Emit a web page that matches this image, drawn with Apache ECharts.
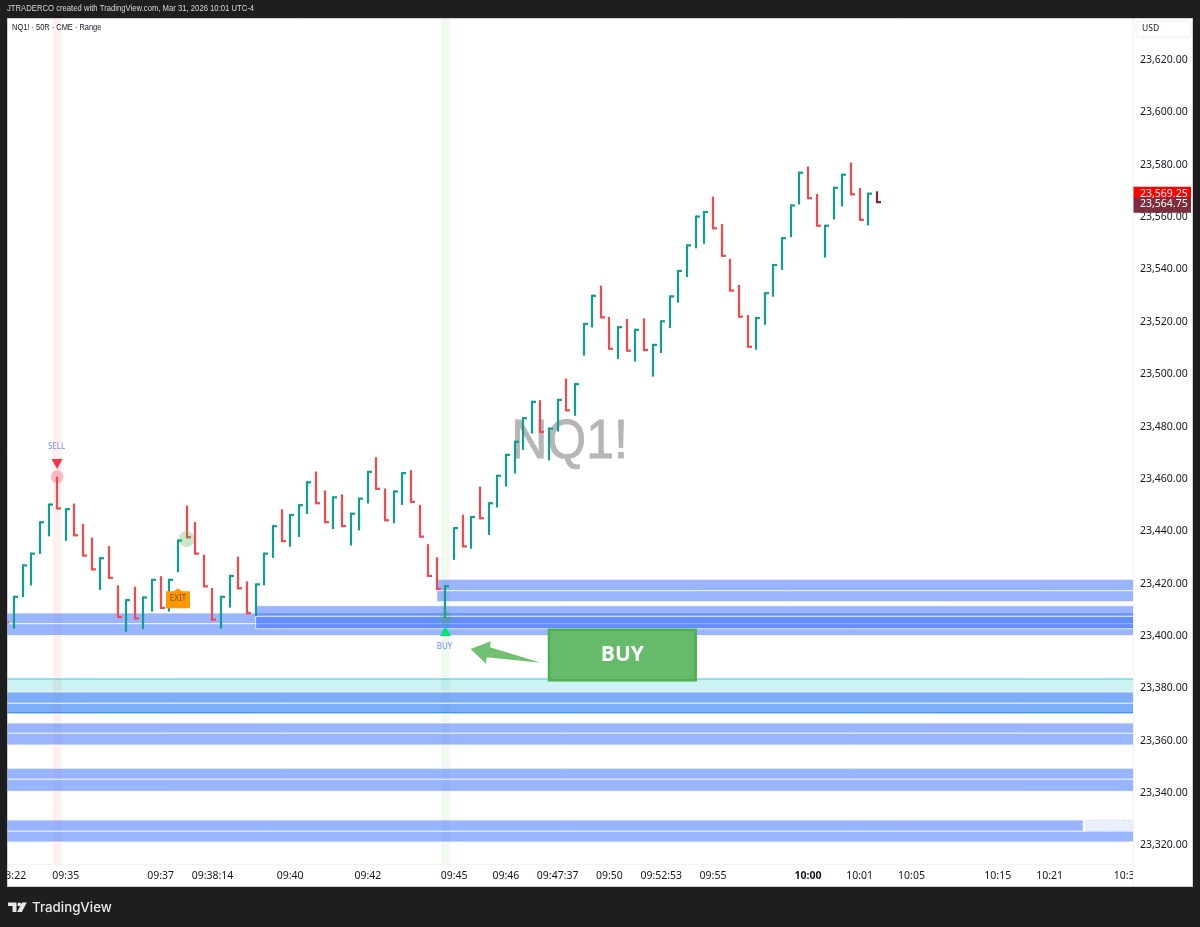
<!DOCTYPE html>
<html><head><meta charset="utf-8">
<style>html,body{margin:0;padding:0;background:#1e1e1e}#c{width:1200px;height:927px}</style>
<script src="https://cdn.jsdelivr.net/npm/echarts@6/dist/echarts.min.js"></script>
</head><body><div id="c"></div>
<script>
// bar series: first entry is the bar partly hidden at the left edge (index -1)
const barHigh = [23416.75,
23414.75,23426.75,23431.25,23443.25,23450,23460.25,23448.25,23450,23442.25,23437,
23429.5,23433.75,23418.75,23413.5,23418.25,23414.5,23421.25,23422.25,23421.25,23436.25,
23449.25,23443,23430.5,23417.75,23414.75,23422.75,23429.75,23420.25,23419.5,23431.25,
23441.75,23447.75,23446,23449.75,23458.5,23462.25,23455,23452.75,23453.5,23446.5,
23452.25,23462.5,23467.75,23455.75,23455,23462,23462.75,23449.5,23434.5,23429.5,
23418.75,23441,23445.75,23445.25,23456.5,23450.5,23461,23469,23474,23483,
23489.25,23489.5,23479,23490,23497.75,23496,23519,23529.75,23533.25,23521.25,
23517.75,23520.5,23516.75,23520.75,23511,23520,23529.5,23539.25,23549,23560,
23561.75,23567.25,23556.75,23543.5,23533.5,23522,23521.25,23530.75,23541.5,23551.75,
23564.25,23576.75,23578.75,23568.25,23556.5,23571,23576,23580.25,23570.5,23568.75,23569.25];
const barLow = [23404.25,
23402.25,23414.25,23418.75,23430.75,23437.5,23447.75,23435.75,23437.5,23429.75,23424.5,
23417,23421.25,23406.25,23401,23405.75,23402,23408.75,23409.75,23408.75,23423.75,
23436.75,23430.5,23418,23405.25,23402.25,23410.25,23417.25,23407.75,23407,23418.75,
23429.25,23435.25,23433.5,23437.25,23446,23449.75,23442.5,23440.25,23441,23434,
23439.75,23450,23455.25,23443.25,23442.5,23449.5,23450.25,23437,23422,23417,
23406.25,23428.5,23433.25,23432.75,23444,23438,23448.5,23456.5,23461.5,23470.5,
23476.75,23477,23466.5,23477.5,23485.25,23483.5,23506.5,23517.25,23520.75,23508.75,
23505.25,23508,23504.25,23508.25,23498.5,23507.5,23517,23526.75,23536.5,23547.5,
23549.25,23554.75,23544.25,23531,23521,23509.5,23508.75,23518.25,23529,23539.25,
23551.75,23564.25,23566.25,23555.75,23544,23558.5,23563.5,23567.75,23558,23556.25,23564.75];
const barUp = [0,
1,1,1,1,1,0,1,0,0,0,
1,0,0,1,0,1,1,0,1,1,
0,0,0,0,1,1,0,0,1,1,
1,0,1,1,1,0,0,1,0,1,
1,1,0,0,1,1,0,0,0,0,
1,1,0,1,0,1,1,1,1,1,
1,0,1,1,0,1,1,1,0,0,
1,0,1,0,1,1,1,1,1,1,
1,0,0,0,0,0,1,1,1,1,
1,1,0,0,1,1,1,0,0,1,0];

const priceTicks = [23320,23340,23360,23380,23400,23420,23440,23460,23480,23500,23520,23540,23560,23580,23600,23620];
const timeTickIndex = [-1,6,17,23,32,41,51,57,63,69,75,81,92,98,104,114,120,129];
const timeTickLabel = ['09:33:22','09:35','09:37','09:38:14','09:40','09:42','09:45','09:46','09:47:37','09:50','09:52:53','09:55','10:00','10:01','10:05','10:15','10:21','10:30'];
const boldTimeLabel = '10:00';

// demand zones: start index, top price, middle price, bottom price
const zoneStart  = [-1.7, 28, 49, -1.7, -1.7, -1.7, -1.7];
const zoneTop    = [23408.2, 23410.98, 23421.07, 23378.02, 23366.18, 23348.88, 23329.13];
const zoneMid    = [23404.11, 23406.94, 23416.71, 23373.7, 23362.24, 23344.68, 23324.81];
const zoneBottom = [23399.6, 23402.2, 23412.51, 23369.62, 23357.78, 23340.09, 23320.73];
const tealZone = [23382.99, 23370.19];
const lastZoneSplit = 123.9;

const strips = [[5,'rgba(255,82,82,0.085)'],[50,'rgba(76,175,80,0.085)']];
const lastPrice = 23564.75, lastHighPrice = 23569.25;
const arrowIndex = [52.92,55.24,55.16,61.03,54.77,54.69];
const arrowPrice = [23394.45,23397.39,23395.1,23389.21,23391.28,23388.83];
const buyBox = {from:61.88,to:79.11,top:23402.2,bottom:23382.11};
const watermark = {idx:64.37,price:23473.3,text:'NQ1!'};

const X_MIN=-1.622, X_MAX=129.67, Y_MIN=23312.32, Y_MAX=23635.47;
const UP='#0f9f8c', DOWN='#f4484c', LAST='#7a2a3a', AXIS_FONT='"Noto Sans"';
const fmt=v=>v.toLocaleString('en-US',{minimumFractionDigits:2,maximumFractionDigits:2});
const rect=(x,y,w,h,fill,stroke,extra)=>Object.assign({type:'rect',shape:{x,y,width:w,height:h},style:{fill,stroke:stroke||null,lineWidth:1}},extra||{});
const txt=(t,x,y,font,fill,al)=>({type:'text',style:{text:t,x,y,font,fill,align:al||'center',verticalAlign:'middle'}});

const backdrop=(p,api)=>{
  const ch=[];
  strips.forEach(s=>{
    const a=api.coord([s[0]-0.5,Y_MAX]),b=api.coord([s[0]+0.5,Y_MIN]);
    ch.push(rect(a[0],a[1],b[0]-a[0],b[1]-a[1],s[1]));
  });
  const w=api.coord([watermark.idx,watermark.price]);
  ch.push({type:'text',x:w[0],y:w[1],scaleY:1.12,style:{text:watermark.text,x:0,y:0,font:'50px "Liberation Sans"',fill:'#b6b6b6',stroke:'#b6b6b6',lineWidth:0.8,align:'center',verticalAlign:'middle'}});
  return {type:'group',children:ch};
};
const zones=(p,api)=>{
  const ch=[];
  const band=(from,to,top,bot,fill,stroke,dash)=>{
    const a=api.coord([from,top]),b=api.coord([to,bot]);
    const r=rect(a[0],a[1],b[0]-a[0],b[1]-a[1],fill,stroke);
    if(dash)r.style.lineDash=dash;
    ch.push(r);
  };
  const a=api.coord([-1.7,tealZone[0]]),b=api.coord([130,tealZone[1]]);
  ch.push(rect(a[0],a[1],b[0]-a[0],b[1]-a[1],'rgba(0,190,190,0.2)','rgba(0,190,215,0.75)'));
  const blue='rgba(41,98,255,0.47)',line='rgba(255,255,255,0.75)';
  zoneStart.forEach((s,i)=>{
    const last=i===zoneStart.length-1;
    band(s,last?lastZoneSplit:130,zoneTop[i],zoneMid[i],blue,line);
    band(s,130,zoneMid[i],zoneBottom[i],blue,line);
    if(last)band(lastZoneSplit+0.3,130,zoneTop[i],zoneMid[i],'rgba(41,98,255,0.10)','rgba(41,98,255,0.25)',[1,2]);
  });
  return {type:'group',children:ch};
};
const bars=(p,api)=>{
  const i=p.dataIndex, idx=api.value(0);
  const hi=api.coord([idx,barHigh[i]]), lo=api.coord([idx,barLow[i]]);
  const close=barUp[i]?hi:lo;
  const color=i===barHigh.length-1?LAST:(barUp[i]?UP:DOWN);
  const x=Math.round(hi[0]);
  const st={stroke:color,lineWidth:2.2,fill:null};
  return {type:'group',children:[
    {type:'line',shape:{x1:x,y1:hi[1],x2:x,y2:lo[1]},style:st},
    {type:'line',shape:{x1:x,y1:barUp[i]?close[1]+1:close[1]-1,x2:x+4,y2:barUp[i]?close[1]+1:close[1]-1},style:st}
  ]};
};
const marks=(p,api)=>{
  const ch=[];
  const s=api.coord([5,barHigh[6]]), g=api.coord([20,barLow[21]]), b=api.coord([50,barLow[51]]), e=api.coord([19,barLow[20]]);
  ch.push({type:'circle',shape:{cx:s[0],cy:s[1],r:6.5},style:{fill:'rgba(242,54,69,0.3)'}});
  ch.push({type:'polygon',shape:{points:[[s[0]-5.5,s[1]-17.6],[s[0]+5.5,s[1]-17.6],[s[0],s[1]-7.6]]},style:{fill:'#f23645'}});
  ch.push(txt('SELL',s[0]-0.5,s[1]-29.6,'8px "Noto Sans"','#6a8dff'));
  ch.push({type:'circle',shape:{cx:g[0],cy:g[1]+0.8,r:8},style:{fill:'rgba(76,175,80,0.3)'}});
  ch.push({type:'circle',shape:{cx:b[0],cy:b[1],r:6.5},style:{fill:'rgba(76,175,80,0.3)'}});
  ch.push({type:'polygon',shape:{points:[[b[0]-5.5,b[1]+18],[b[0]+5.5,b[1]+18],[b[0],b[1]+8]]},style:{fill:'#00e676'}});
  ch.push(txt('BUY',b[0]-1,b[1]+29,'8px "Noto Sans"','#6a8dff'));
  ch.push({type:'polygon',shape:{points:[[e[0]-12,e[1]+19],[e[0]-4,e[1]+19],[e[0],e[1]+16],[e[0]+4,e[1]+19],[e[0]+12,e[1]+19],[e[0]+12,e[1]+36],[e[0]-12,e[1]+36]]},style:{fill:'#ff9800'}});
  ch.push(txt('EXIT',e[0],e[1]+26.8,'8px "Noto Sans"','#7a5510'));
  ch.push({type:'polygon',shape:{points:arrowIndex.map((x,i)=>api.coord([x,arrowPrice[i]]))},style:{fill:'rgba(76,175,80,0.8)'}});
  const a=api.coord([buyBox.from,buyBox.top]),c=api.coord([buyBox.to,buyBox.bottom]);
  ch.push({type:'rect',shape:{x:a[0]+1,y:a[1]+1,width:c[0]-a[0]-2,height:c[1]-a[1]-2},style:{fill:'#66bb6a',stroke:'#4caf50',lineWidth:2.5}});
  ch.push(txt('BUY',(a[0]+c[0])/2,(a[1]+c[1])/2,'bold 21px "Open Sans"','#ffffff'));
  return {type:'group',children:ch};
};
const tags=(p,api)=>{
  const h=api.coord([X_MAX,lastHighPrice]),l=api.coord([X_MAX,lastPrice]);
  return {type:'group',children:[
    rect(h[0]+0.5,h[1]-4.6,57.5,12,'#ff0000'),
    rect(h[0]+0.5,l[1]-5.4,57.5,15,'#7d2d3c'),
    txt(fmt(lastHighPrice),h[0]+7,h[1]+2.2,'10.5px '+AXIS_FONT,'#fff','left'),
    txt(fmt(lastPrice),h[0]+7,l[1]+1.2,'10.5px '+AXIS_FONT,'#fff','left')
  ]};
};
const custom=(z,renderItem,data,clip)=>({type:'custom',coordinateSystem:'cartesian2d',z,silent:true,clip,animation:false,renderItem,data,encode:{x:0,y:1}});

const chart=echarts.init(document.getElementById('c'),null,{renderer:'canvas'});
const DARK='#1e1e1e';
chart.setOption({
  animation:false,
  backgroundColor:'#ffffff',
  grid:{left:0,right:67,top:18,bottom:63,containLabel:false,outerBoundsMode:'none'},
  xAxis:{type:'value',min:X_MIN,max:X_MAX,splitLine:{show:false},z:1,
    axisLine:{show:true,onZero:false,lineStyle:{color:'#f0f3fa'}},axisTick:{show:false},
    axisLabel:{customValues:timeTickIndex,margin:7,fontFamily:AXIS_FONT,fontSize:10.5,color:'#131722',hideOverlap:false,
      formatter:v=>{const t=timeTickLabel[timeTickIndex.indexOf(v)];return t===boldTimeLabel?'{b|'+t+'}':t;},
      rich:{b:{fontWeight:'bold',fontFamily:AXIS_FONT,fontSize:10.5,color:'#131722'}}}},
  yAxis:{type:'value',position:'right',min:Y_MIN,max:Y_MAX,splitLine:{show:false},z:60,
    axisLine:{show:true,onZero:false,lineStyle:{color:'#f0f3fa'}},axisTick:{show:false},
    axisLabel:{customValues:priceTicks,margin:7,fontFamily:AXIS_FONT,fontSize:10.5,color:'#131722',
      formatter:v=>'{p|'+fmt(v)+'}',
      rich:{p:{padding:[3,0,0,0],fontFamily:AXIS_FONT,fontSize:10.5,color:'#131722'}}}},
  series:[
    custom(2,backdrop,[[0,Y_MIN]],true),
    custom(3,zones,[[0,Y_MIN]],true),
    custom(4,bars,barHigh.map((h,i)=>[i-1,h]),true),
    custom(5,marks,[[0,Y_MIN]],true),
    custom(70,tags,[[X_MAX,lastPrice]],false)
  ],
  graphic:{elements:[
    {type:'rect',z:50,shape:{x:1134,y:18,width:60,height:869},style:{fill:'#ffffff'}},
    {type:'line',z:51,shape:{x1:1133.5,y1:18,x2:1133.5,y2:887},style:{stroke:'#f0f3fa',lineWidth:1}},
    {type:'rect',z:61,shape:{x:1136,y:21,width:55,height:16,r:3},style:{fill:'#fff',stroke:'#eceef2',lineWidth:1}},
    {type:'text',z:62,style:{text:'USD',x:1142,y:29,font:'8.5px '+AXIS_FONT,fill:'#131722',verticalAlign:'middle'}},
    {type:'rect',z:100,shape:{x:0,y:0,width:1200,height:18},style:{fill:DARK}},
    {type:'rect',z:100,shape:{x:0,y:887,width:1200,height:40},style:{fill:DARK}},
    {type:'rect',z:100,shape:{x:0,y:0,width:7,height:927},style:{fill:DARK}},
    {type:'rect',z:100,shape:{x:1193,y:0,width:7,height:927},style:{fill:DARK}},
    {type:'rect',z:99,shape:{x:7,y:18,width:1186,height:869},style:{fill:null,stroke:'#a0a0a0',lineWidth:1}},
    {type:'text',z:101,x:7,y:9,scaleX:0.905,style:{text:'JTRADERCO created with TradingView.com, Mar 31, 2026 10:01 UTC-4',x:0,y:0,font:'8.5px "Liberation Sans"',fill:'#d8d8d8',verticalAlign:'middle'}},
    {type:'text',z:101,x:12,y:27.5,scaleX:0.876,style:{text:'NQ1! · 50R · CME · Range',x:0,y:0,font:'8.5px "Liberation Sans"',fill:'#131722',verticalAlign:'middle'}},
    {type:'polygon',z:101,shape:{points:[[8,902.5],[16.5,902.5],[16.5,912],[12.5,912],[12.5,906],[8,906]]},style:{fill:'#e8e8e8'}},
    {type:'circle',z:101,shape:{cx:19.3,cy:904.4,r:1.9},style:{fill:'#e8e8e8'}},
    {type:'polygon',z:101,shape:{points:[[22,902.5],[26.8,902.5],[21.8,912],[17.2,912]]},style:{fill:'#e8e8e8'}},
    {type:'text',z:101,style:{text:'TradingView',x:32,y:907.5,font:'500 13.3px "Inter"',fill:'#e8e8e8',verticalAlign:'middle'}}
  ]}
});
</script></body></html>
